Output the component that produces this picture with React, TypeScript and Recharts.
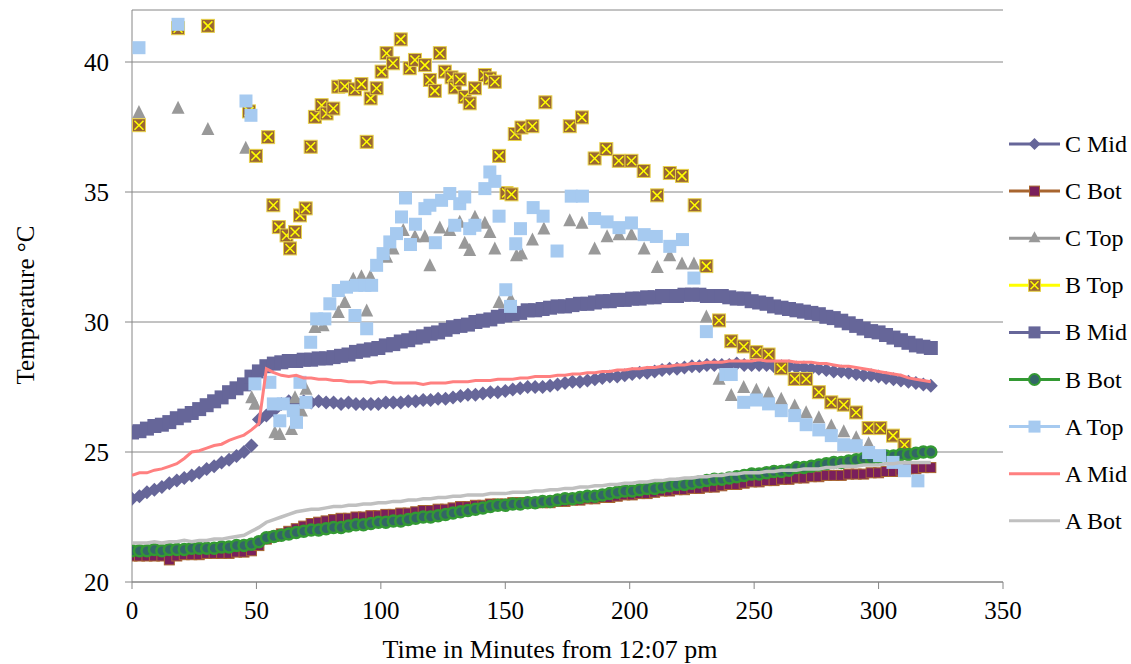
import React from 'react';
import { ScatterChart, Scatter, XAxis, YAxis, CartesianGrid, Legend, Label } from 'recharts';

// minutes for the densely logged series
const minutes = [
  0, 3, 6, 9, 12, 15, 18, 21, 24, 27, 30, 33,
  36, 39, 42, 45, 48, 51, 54, 57, 60, 63, 66, 69,
  72, 75, 78, 81, 84, 87, 90, 93, 96, 99, 102, 105,
  108, 111, 114, 117, 120, 123, 126, 129, 132, 135, 138, 141,
  144, 147, 150, 153, 156, 159, 162, 165, 168, 171, 174, 177,
  180, 183, 186, 189, 192, 195, 198, 201, 204, 207, 210, 213,
  216, 219, 222, 225, 228, 231, 234, 237, 240, 243, 246, 249,
  252, 255, 258, 261, 264, 267, 270, 273, 276, 279, 282, 285,
  288, 291, 294, 297, 300, 303, 306, 309, 312, 315, 318, 321,
];

const cMid = [
  23.2, 23.3, 23.45, 23.55, 23.65, 23.8, 23.9, 24.0, 24.1, 24.2, 24.35, 24.45,
  24.6, 24.7, 24.85, 25.0, 25.25, 26.25, 26.4, 26.6, 26.85, 26.95, 26.9, 26.95,
  26.9, 26.95, 26.9, 26.9, 26.85, 26.9, 26.85, 26.85, 26.85, 26.85, 26.9, 26.9,
  26.9, 26.95, 26.95, 27.0, 27.0, 27.05, 27.05, 27.1, 27.15, 27.2, 27.2, 27.25,
  27.3, 27.3, 27.35, 27.4, 27.45, 27.5, 27.5, 27.5, 27.55, 27.6, 27.65, 27.7,
  27.7, 27.75, 27.8, 27.85, 27.9, 27.9, 27.95, 28.0, 28.05, 28.05, 28.1, 28.15,
  28.2, 28.2, 28.25, 28.3, 28.3, 28.35, 28.35, 28.35, 28.35, 28.4, 28.35, 28.35,
  28.35, 28.35, 28.3, 28.3, 28.3, 28.25, 28.25, 28.2, 28.2, 28.15, 28.1, 28.1,
  28.05, 28.0, 27.95, 27.95, 27.9, 27.85, 27.8, 27.75, 27.7, 27.65, 27.6, 27.55,
];

const cBot = [
  21.0, 21.0, 21.0, 21.0, 21.0, 20.85, 21.0, 21.05, 21.05, 21.05, 21.1, 21.1,
  21.1, 21.1, 21.15, 21.15, 21.2, 21.4, 21.65, 21.75, 21.85, 21.95, 22.05, 22.15,
  22.25, 22.3, 22.35, 22.4, 22.45, 22.45, 22.5, 22.5, 22.55, 22.55, 22.6, 22.6,
  22.65, 22.65, 22.7, 22.75, 22.75, 22.8, 22.8, 22.85, 22.9, 22.9, 22.95, 22.95,
  23.0, 23.0, 23.0, 23.05, 23.05, 23.05, 23.05, 23.05, 23.05, 23.1, 23.1, 23.15,
  23.15, 23.2, 23.2, 23.25, 23.25, 23.3, 23.35, 23.35, 23.4, 23.4, 23.45, 23.5,
  23.5, 23.55, 23.55, 23.6, 23.6, 23.65, 23.65, 23.7, 23.75, 23.75, 23.8, 23.85,
  23.85, 23.9, 23.9, 23.95, 23.95, 24.0, 24.0, 24.05, 24.05, 24.1, 24.1, 24.1,
  24.15, 24.15, 24.15, 24.2, 24.2, 24.25, 24.25, 24.3, 24.35, 24.35, 24.4, 24.4,
];

const bMid = [
  25.75, 25.8, 25.9, 26.0, 26.05, 26.15, 26.3, 26.4, 26.5, 26.65, 26.8, 26.95,
  27.1, 27.3, 27.45, 27.6, 27.9, 28.1, 28.3, 28.4, 28.45, 28.5, 28.5, 28.55,
  28.55, 28.6, 28.6, 28.65, 28.7, 28.75, 28.85, 28.9, 28.95, 29.0, 29.1, 29.15,
  29.25, 29.3, 29.4, 29.45, 29.55, 29.6, 29.7, 29.8, 29.85, 29.9, 30.0, 30.05,
  30.1, 30.2, 30.25, 30.3, 30.35, 30.45, 30.45, 30.5, 30.55, 30.6, 30.6, 30.65,
  30.7, 30.7, 30.75, 30.8, 30.8, 30.85, 30.85, 30.9, 30.9, 30.95, 30.95, 31.0,
  31.0, 31.0, 31.05, 31.05, 31.05, 31.0, 31.0, 31.0, 30.95, 30.9, 30.9, 30.8,
  30.75, 30.7, 30.6, 30.55, 30.5, 30.45, 30.4, 30.35, 30.3, 30.2, 30.15, 30.05,
  29.95, 29.85, 29.75, 29.65, 29.6, 29.5, 29.4, 29.3, 29.2, 29.1, 29.05, 29.0,
];

const bBot = [
  21.2, 21.2, 21.2, 21.25, 21.2, 21.25, 21.25, 21.25, 21.3, 21.3, 21.3, 21.3,
  21.35, 21.35, 21.4, 21.4, 21.45, 21.55, 21.7, 21.75, 21.8, 21.85, 21.9, 21.95,
  22.0, 22.0, 22.05, 22.1, 22.1, 22.15, 22.2, 22.2, 22.25, 22.3, 22.3, 22.35,
  22.35, 22.4, 22.45, 22.5, 22.5, 22.55, 22.6, 22.65, 22.7, 22.75, 22.8, 22.85,
  22.9, 22.95, 22.95, 23.0, 23.0, 23.05, 23.05, 23.1, 23.1, 23.15, 23.2, 23.2,
  23.25, 23.3, 23.3, 23.35, 23.4, 23.45, 23.5, 23.5, 23.55, 23.6, 23.6, 23.65,
  23.7, 23.75, 23.75, 23.8, 23.85, 23.9, 23.95, 23.95, 24.0, 24.05, 24.1, 24.15,
  24.15, 24.2, 24.25, 24.25, 24.3, 24.4, 24.4, 24.45, 24.5, 24.55, 24.6, 24.6,
  24.65, 24.7, 24.75, 24.75, 24.8, 24.85, 24.85, 24.9, 24.9, 24.95, 25.0, 25.0,
];

const aMid = [
  24.1, 24.2, 24.2, 24.3, 24.35, 24.45, 24.55, 24.75, 25.0, 25.05, 25.15, 25.25,
  25.3, 25.45, 25.55, 25.65, 25.85, 26.1, 28.2, 28.05, 27.95, 27.9, 27.95, 27.85,
  27.85, 27.8, 27.8, 27.75, 27.75, 27.7, 27.7, 27.7, 27.65, 27.7, 27.7, 27.65,
  27.65, 27.65, 27.65, 27.6, 27.65, 27.65, 27.65, 27.7, 27.7, 27.7, 27.75, 27.75,
  27.75, 27.8, 27.8, 27.8, 27.85, 27.85, 27.9, 27.9, 27.9, 27.95, 27.95, 28.0,
  28.0, 28.05, 28.05, 28.1, 28.1, 28.15, 28.15, 28.2, 28.2, 28.25, 28.25, 28.3,
  28.3, 28.35, 28.35, 28.4, 28.4, 28.45, 28.45, 28.45, 28.5, 28.5, 28.5, 28.5,
  28.55, 28.5, 28.5, 28.5, 28.5, 28.45, 28.45, 28.45, 28.4, 28.4, 28.35, 28.3,
  28.3, 28.25, 28.2, 28.15, 28.1, 28.05, 28.0, 27.95, 27.85, 27.8, 27.75, 27.7,
];

const aBot = [
  21.5, 21.5, 21.5, 21.55, 21.5, 21.55, 21.55, 21.6, 21.55, 21.6, 21.6, 21.65,
  21.65, 21.7, 21.75, 21.8, 21.95, 22.1, 22.3, 22.4, 22.5, 22.6, 22.7, 22.75,
  22.8, 22.8, 22.85, 22.9, 22.9, 22.95, 22.95, 23.0, 23.0, 23.05, 23.05, 23.1,
  23.1, 23.15, 23.15, 23.2, 23.2, 23.25, 23.25, 23.3, 23.3, 23.35, 23.35, 23.35,
  23.4, 23.4, 23.4, 23.45, 23.45, 23.45, 23.5, 23.5, 23.55, 23.55, 23.6, 23.6,
  23.65, 23.65, 23.7, 23.7, 23.75, 23.75, 23.8, 23.8, 23.85, 23.85, 23.9, 23.9,
  23.95, 23.95, 24.0, 24.0, 24.05, 24.05, 24.1, 24.1, 24.15, 24.15, 24.2, 24.2,
  24.2, 24.25, 24.25, 24.3, 24.3, 24.3, 24.35, 24.35, 24.35, 24.4, 24.4, 24.45,
  24.45, 24.45, 24.5, 24.5, 24.5, 24.55, 24.55, 24.6, 24.6, 24.6, 24.6, 24.6,
];

// sparse series: [minute, °C]
const cTop = [
  [2.8, 38.07], [18.5, 38.23], [30.5, 37.42], [45.7, 36.7],
  [48.1, 27.1], [49.4, 26.85], [57.4, 25.75], [59.4, 25.69], [64.1, 25.88], [65.5, 27.1], [68.1, 26.59], [69.9, 27.43],
  [73.5, 29.8], [76.8, 29.87], [82.9, 30.38], [85.5, 30.76], [88.9, 31.66], [92.2, 31.75], [94.3, 30.44], [95.8, 31.75],
  [102.3, 32.5], [104.9, 32.82], [109, 33.53], [113.7, 33.29], [117.7, 33.29], [119.7, 32.18], [123.7, 33.63],
  [127.7, 33.53], [131.7, 33.85], [133.7, 33.04], [135.7, 32.76], [137.8, 34.04], [141.8, 33.81], [143.8, 33.46],
  [145.8, 32.82], [147.5, 30.76], [152.2, 30.89], [154.5, 32.56], [156.5, 32.63], [160.9, 33.17], [165.5, 33.59],
  [175.9, 33.91], [180.8, 33.81], [185.9, 32.82], [190.9, 33.29], [195.7, 33.37], [200.7, 33.37], [205.8, 32.82],
  [211.1, 32.11], [216.1, 32.56], [221, 32.24], [225.8, 32.24], [230.8, 30.21], [235.9, 27.81], [240.8, 27.19],
  [245.8, 27.49], [250.9, 27.39], [255.8, 27.26], [260.9, 27.04], [266.3, 26.78], [270.9, 26.52], [276, 26.33],
  [281, 26.01], [286, 25.79], [291, 25.56], [296, 25.33],
];

const bTop = [
  [2.8, 37.57], [18.5, 41.3], [30.5, 41.39], [47, 38.1], [49.8, 36.39], [54.7, 37.11], [56.8, 34.49], [59, 33.65],
  [62.1, 33.33], [63.5, 32.83], [65.5, 33.46], [67.5, 34.1], [69.8, 34.37], [71.8, 36.74], [73.5, 37.89], [76.2, 38.34],
  [78.2, 38.02], [80.9, 38.21], [82.9, 39.05], [85.5, 39.07], [89.6, 38.95], [92.2, 39.15], [94.3, 36.93], [95.9, 38.6],
  [98.3, 38.99], [100.3, 39.63], [102.3, 40.34], [104.9, 39.95], [108, 40.87], [111.6, 39.76], [113.7, 40.08],
  [117.7, 39.88], [119.7, 39.31], [121.7, 38.89], [123.7, 40.34], [125.7, 39.63], [128.4, 39.41], [129.7, 39.02],
  [131.7, 39.33], [133.7, 38.66], [135.7, 38.41], [137.8, 38.99], [141.8, 39.5], [143.8, 39.37], [145.8, 39.24],
  [147.5, 36.39], [150.5, 34.96], [152.5, 34.91], [153.8, 37.23], [156.5, 37.48], [160.9, 37.53], [166.1, 38.45],
  [175.9, 37.53], [180.8, 37.87], [185.9, 36.29], [190.6, 36.65], [195.6, 36.2], [200.7, 36.2], [205.6, 35.81],
  [211, 34.87], [216.1, 35.73], [221, 35.62], [226.1, 34.49], [230.8, 32.15], [235.9, 30.06], [240.8, 29.26],
  [245.8, 29.06], [250.9, 28.84], [255.8, 28.75], [260.9, 28.22], [266.3, 27.81], [270.9, 27.81], [276, 27.3],
  [281, 26.91], [286, 26.82], [291, 26.52], [296, 25.92], [300.7, 25.92], [305.8, 25.63], [310.4, 25.28],
];

const aTop = [
  [2.8, 40.55], [18.5, 41.45], [45.8, 38.5], [47.8, 37.95],
  [49.4, 27.62], [55.4, 27.68], [56.8, 26.85], [59.4, 26.2], [60.8, 26.85], [64.8, 26.59], [66.1, 26.14], [67.5, 27.68],
  [69.9, 26.91], [71.8, 29.22], [74.2, 30.12], [77.5, 30.12], [79.5, 30.7], [82.9, 31.21], [86.2, 31.34], [89.6, 30.25],
  [90.2, 31.41], [93.6, 31.41], [94.3, 29.74], [96.3, 31.41], [98.3, 32.18], [100.9, 32.63], [103.6, 33.08],
  [106.3, 33.4], [108.3, 34.04], [109.9, 34.77], [111.9, 32.98], [113.9, 33.76], [117.7, 34.36], [119.7, 34.49],
  [121.9, 33.05], [124.4, 34.68], [127.7, 34.94], [129.7, 33.72], [131.7, 34.55], [133.7, 34.81], [135.7, 33.59],
  [137.8, 33.72], [141.8, 35.13], [143.8, 35.77], [145.8, 35.41], [147.5, 34.07], [150.2, 31.24], [152.1, 30.6],
  [154.2, 33.01], [156.1, 33.59], [161.2, 34.4], [165.2, 34.07], [170.8, 32.73], [176.5, 34.84], [181, 34.84],
  [185.9, 33.98], [190.9, 33.85], [195.7, 33.63], [200.7, 33.81], [205.8, 33.36], [210.7, 33.29], [216.1, 32.91],
  [221.2, 33.17], [225.8, 31.69], [230.8, 29.63], [238.6, 27.98], [240.8, 27.98], [245.8, 26.91], [250.9, 27.0],
  [255.8, 26.85], [260.9, 26.59], [266.3, 26.4], [270.9, 26.05], [276, 25.85], [281, 25.63], [286, 25.28],
  [291, 25.24], [296, 24.98], [300.4, 24.86], [305.8, 24.6], [310.4, 24.28], [315.8, 23.89],
];

const xTicks = [0, 50, 100, 150, 200, 250, 300, 350];
const yTicks = [20, 25, 30, 35, 40];
const legendNames = ['C Mid', 'C Bot', 'C Top', 'B Top', 'B Mid', 'B Bot', 'A Top', 'A Mid', 'A Bot'];

const dense = (vals: number[]) => minutes.map((m, i) => ({ x: m, y: vals[i] }));
const sparse = (pairs: number[][]) => pairs.map(([x, y]) => ({ x, y }));

const FONT = '"Liberation Serif", "Times New Roman", Times, serif';
const AXIS = '#868686';

const C = {
  cMid: '#666699',
  cBotFill: '#7A1F5C',
  cBotLine: '#A8652F',
  cTop: '#999999',
  bTopFill: '#996633',
  bTopLine: '#FFFF00',
  bMid: '#666699',
  bBotFill: '#336666',
  bBotLine: '#339933',
  aTop: '#A6CAF0',
  aMid: '#FF8080',
  aBot: '#C0C0C0',
};

type P = { cx?: number; cy?: number };

const Diamond = (s: number, fill: string) => (p: P) => {
  const { cx = 0, cy = 0 } = p;
  return <polygon points={`${cx},${cy - s} ${cx + s},${cy} ${cx},${cy + s} ${cx - s},${cy}`} fill={fill} />;
};
const Square = (s: number, fill: string, stroke?: string) => (p: P) => {
  const { cx = 0, cy = 0 } = p;
  return <rect x={cx - s / 2} y={cy - s / 2} width={s} height={s} fill={fill} stroke={stroke || 'none'} strokeWidth={1} />;
};
const Triangle = (s: number, fill: string) => (p: P) => {
  const { cx = 0, cy = 0 } = p;
  return <polygon points={`${cx},${cy - s * 0.55} ${cx + s / 2},${cy + s * 0.45} ${cx - s / 2},${cy + s * 0.45}`} fill={fill} />;
};
const XSquare = (s: number) => (p: P) => {
  const { cx = 0, cy = 0 } = p;
  const h = s / 2;
  const k = h - 2;
  return (
    <g>
      <rect x={cx - h} y={cy - h} width={s} height={s} fill={C.bTopFill} stroke="#E8D24A" strokeWidth={1} />
      <line x1={cx - k} y1={cy - k} x2={cx + k} y2={cy + k} stroke={C.bTopLine} strokeWidth={1.5} />
      <line x1={cx - k} y1={cy + k} x2={cx + k} y2={cy - k} stroke={C.bTopLine} strokeWidth={1.5} />
    </g>
  );
};
const Circle = (r: number) => (p: P) => {
  const { cx = 0, cy = 0 } = p;
  return <circle cx={cx} cy={cy} r={r} fill={C.bBotFill} stroke={C.bBotLine} strokeWidth={2.5} />;
};
const NoDot = () => <g />;

const legendSpec = [
  { line: C.cMid, mark: (x: number, y: number) => <polygon points={`${x},${y - 6} ${x + 6},${y} ${x},${y + 6} ${x - 6},${y}`} fill={C.cMid} /> },
  { line: C.cBotLine, mark: (x: number, y: number) => <rect x={x - 5} y={y - 5} width={10} height={10} fill={C.cBotFill} stroke={C.cBotLine} /> },
  { line: C.cTop, mark: (x: number, y: number) => <polygon points={`${x},${y - 7} ${x + 6},${y + 4} ${x - 6},${y + 4}`} fill={C.cTop} /> },
  { line: C.bTopLine, mark: (x: number, y: number) => (
    <g>
      <rect x={x - 6} y={y - 6} width={12} height={12} fill={C.bTopFill} stroke="#E8D24A" />
      <line x1={x - 4} y1={y - 4} x2={x + 4} y2={y + 4} stroke={C.bTopLine} strokeWidth={1.5} />
      <line x1={x - 4} y1={y + 4} x2={x + 4} y2={y - 4} stroke={C.bTopLine} strokeWidth={1.5} />
    </g>
  ) },
  { line: C.bMid, mark: (x: number, y: number) => <rect x={x - 6} y={y - 6} width={12} height={12} fill={C.bMid} /> },
  { line: C.bBotLine, mark: (x: number, y: number) => <circle cx={x} cy={y} r={5.5} fill={C.bBotFill} stroke={C.bBotLine} strokeWidth={2} /> },
  { line: C.aTop, mark: (x: number, y: number) => <rect x={x - 6} y={y - 6} width={12} height={12} fill={C.aTop} /> },
  { line: C.aMid, mark: () => null },
  { line: C.aBot, mark: () => null },
];

const renderLegend = () => (
  <svg width={128} height={420} style={{ display: 'block' }}>
    {legendNames.map((name, i) => {
      const y = 24 + i * 47.1;
      return (
        <g key={name}>
          <line x1={6} x2={57} y1={y} y2={y} stroke={legendSpec[i].line} strokeWidth={3} />
          {legendSpec[i].mark(31.5, y)}
          <text x={62} y={y} dominantBaseline="central" fontFamily={FONT} fontSize={24} fill="#000">{name}</text>
        </g>
      );
    })}
  </svg>
);

export default function App() {
  return (
    <div style={{ position: 'absolute', left: 0, top: 0, width: 1131, height: 664, background: '#fff' }}>
      <ScatterChart width={1131} height={664} margin={{ top: 10, right: 0, bottom: 0, left: 0 }}>
        <CartesianGrid vertical={false} stroke={AXIS} strokeWidth={1} />
        <XAxis
          type="number"
          dataKey="x"
          domain={[0, 350]}
          ticks={xTicks}
          height={82}
          tickSize={7}
          tickMargin={12}
          stroke={AXIS}
          tick={{ fill: '#000', fontSize: 25, fontFamily: FONT }}
          allowDataOverflow
        >
          <Label
            content={() => (
              <text x={550} y={658} textAnchor="middle" fontFamily={FONT} fontSize={26} fill="#000">
                Time in Minutes from 12:07 pm
              </text>
            )}
          />
        </XAxis>
        <YAxis
          type="number"
          dataKey="y"
          domain={[20, 42]}
          ticks={yTicks}
          width={132}
          tickSize={7}
          tickMargin={16}
          stroke={AXIS}
          tick={{ fill: '#000', fontSize: 25, fontFamily: FONT }}
          allowDataOverflow
        >
          <Label
            content={() => (
              <text x={25} y={305} transform="rotate(-90, 25, 305)" textAnchor="middle" dominantBaseline="central" fontFamily={FONT} fontSize={25} fill="#000">
                Temperature °C
              </text>
            )}
          />
        </YAxis>
        <Legend
          layout="vertical"
          align="right"
          verticalAlign="middle"
          width={128}
          content={renderLegend}
          wrapperStyle={{ left: 1003, top: 120, width: 128 }}
        />
        <Scatter name="C Mid" data={dense(cMid)} shape={Diamond(7, C.cMid)} isAnimationActive={false} />
        <Scatter name="C Bot" data={dense(cBot)} shape={Square(10, C.cBotFill, C.cBotLine)} isAnimationActive={false} />
        <Scatter name="C Top" data={sparse(cTop)} shape={Triangle(13, C.cTop)} isAnimationActive={false} />
        <Scatter name="B Top" data={sparse(bTop)} shape={XSquare(13)} isAnimationActive={false} />
        <Scatter name="B Mid" data={dense(bMid)} shape={Square(14, C.bMid)} isAnimationActive={false} />
        <Scatter name="B Bot" data={dense(bBot)} shape={Circle(5.5)} isAnimationActive={false} />
        <Scatter name="A Top" data={sparse(aTop)} shape={Square(13, C.aTop)} isAnimationActive={false} />
        <Scatter
          name="A Mid"
          data={dense(aMid)}
          shape={NoDot}
          line={{ stroke: C.aMid, strokeWidth: 3 }}
          lineType="joint"
          isAnimationActive={false}
        />
        <Scatter
          name="A Bot"
          data={dense(aBot)}
          shape={NoDot}
          line={{ stroke: C.aBot, strokeWidth: 3.5 }}
          lineType="joint"
          isAnimationActive={false}
        />
      </ScatterChart>
    </div>
  );
}
